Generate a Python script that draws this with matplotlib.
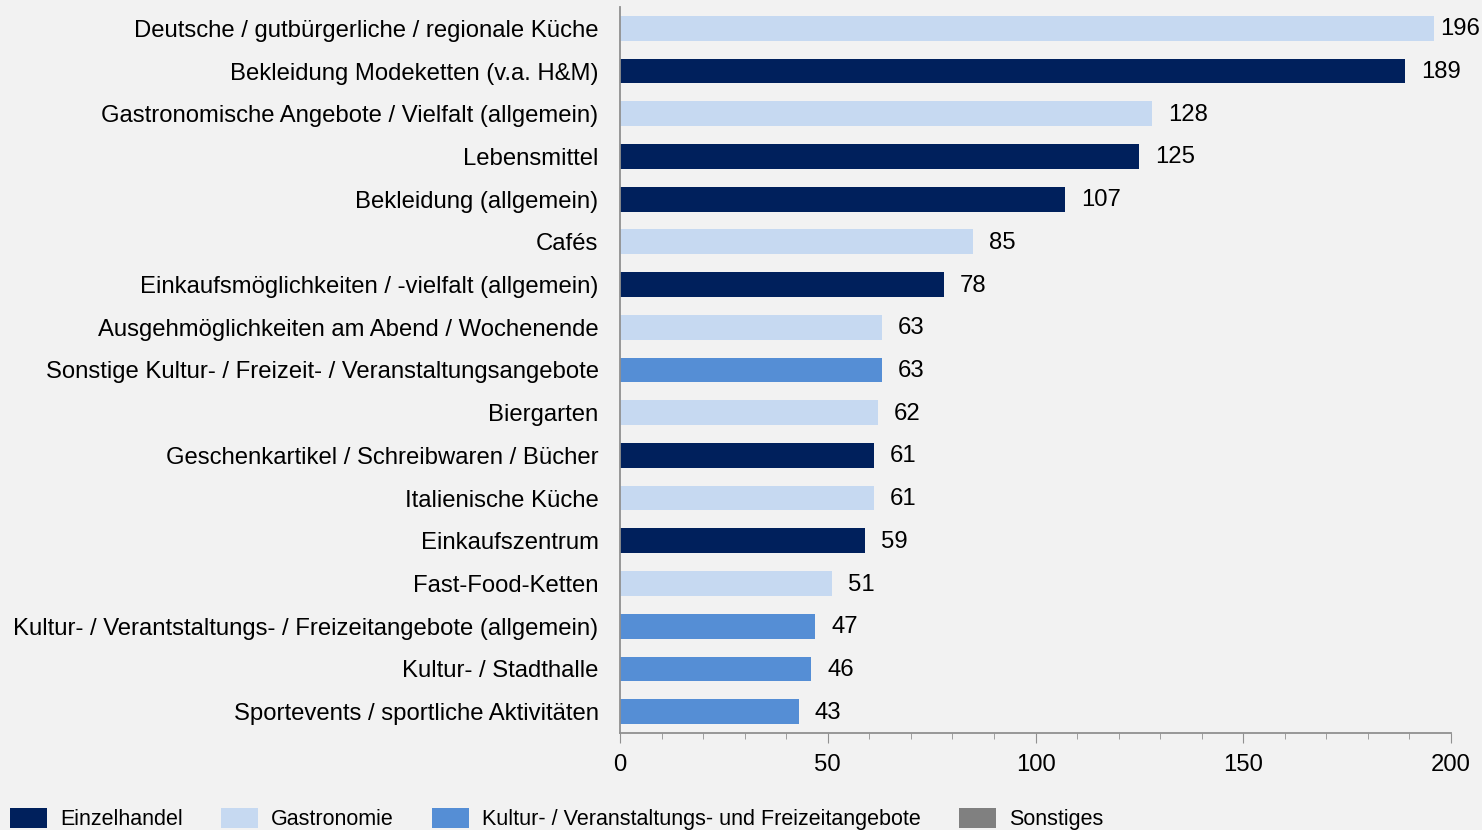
import matplotlib.pyplot as plt
from matplotlib.patches import Patch
from matplotlib.ticker import MultipleLocator

plt.rcParams['font.family'] = ['Liberation Sans', 'DejaVu Sans']

categories = [
    "Deutsche / gutbürgerliche / regionale Küche",
    "Bekleidung Modeketten (v.a. H&M)",
    "Gastronomische Angebote / Vielfalt (allgemein)",
    "Lebensmittel",
    "Bekleidung (allgemein)",
    "Cafés",
    "Einkaufsmöglichkeiten / -vielfalt (allgemein)",
    "Ausgehmöglichkeiten am Abend / Wochenende",
    "Sonstige Kultur- / Freizeit- / Veranstaltungsangebote",
    "Biergarten",
    "Geschenkartikel / Schreibwaren / Bücher",
    "Italienische Küche",
    "Einkaufszentrum",
    "Fast-Food-Ketten",
    "Kultur- / Verantstaltungs- / Freizeitangebote (allgemein)",
    "Kultur- / Stadthalle",
    "Sportevents / sportliche Aktivitäten",
]
values = [196, 189, 128, 125, 107, 85, 78, 63, 63, 62, 61, 61, 59, 51, 47, 46, 43]
groups = ["G", "E", "G", "E", "E", "G", "E", "G", "K", "G", "E", "G", "E", "G", "K", "K", "K"]

group_names = {
    "E": "Einzelhandel",
    "G": "Gastronomie",
    "K": "Kultur- / Veranstaltungs- und Freizeitangebote",
    "S": "Sonstiges",
}
group_colors = {"E": "#00205C", "G": "#C6D9F1", "K": "#558ED5", "S": "#808080"}

fs = 17.2
bg = "#F2F2F2"
fig = plt.figure(figsize=(14.82, 8.3), dpi=100, facecolor=bg)
ax = fig.add_axes([0.4184, 0.1169, 0.5607, 0.8747], facecolor=bg)

y = range(len(categories))
ax.barh(y, values, height=0.58, color=[group_colors[g] for g in groups])

for i, v in enumerate(values):
    off = 6 if v == max(values) else 16
    ax.annotate(str(v), (v, i), xytext=(off, -1), textcoords="offset pixels",
                va="center", ha="left", fontsize=fs, color="black")

ax.set_xlim(0, 200)
ax.set_ylim(16.5, -0.5)
ax.set_yticks(list(y))
ax.set_yticklabels(categories, fontsize=fs)
ax.tick_params(axis="y", length=0, pad=15.5)
ax.xaxis.set_major_locator(MultipleLocator(50))
ax.xaxis.set_minor_locator(MultipleLocator(10))
ax.tick_params(axis="x", which="major", length=7, color="#909090", labelsize=fs, pad=8)
ax.tick_params(axis="x", which="minor", length=4, color="#909090")

for s in ["top", "right"]:
    ax.spines[s].set_visible(False)
for s in ["left", "bottom"]:
    ax.spines[s].set_color("#909090")
    ax.spines[s].set_linewidth(1.3)

handles = [Patch(facecolor=group_colors[k], label=group_names[k]) for k in ["E", "G", "K", "S"]]
fig.legend(handles=handles, loc="center left", bbox_to_anchor=(0.0065, 0.0135), ncol=4,
           frameon=False, fontsize=15.5, handlelength=1.75, handleheight=1.05,
           handletextpad=0.6, columnspacing=1.75, borderaxespad=0, borderpad=0)

fig.savefig("out.png", dpi=100, facecolor=bg)
